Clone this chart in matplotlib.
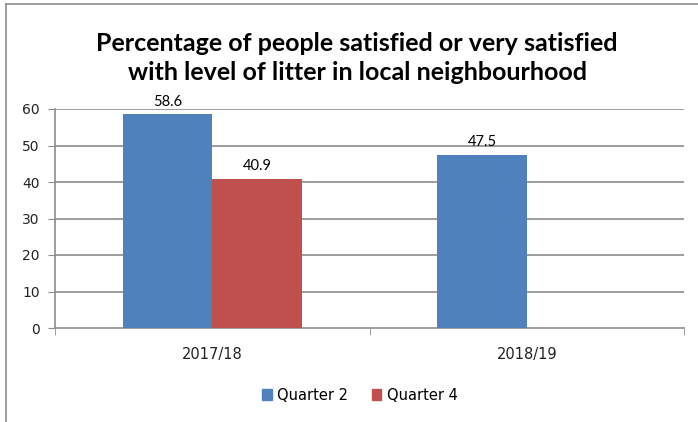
import matplotlib.pyplot as plt
from matplotlib.lines import Line2D
import numpy as np

years = ['2017/18', '2018/19']
quarter2 = [58.6, 47.5]
quarter4 = [40.9, None]
yticks = [0, 10, 20, 30, 40, 50, 60]

blue = '#4F81BD'
red = '#C0504D'
grey = '#8C8C8C'

W, H = 698, 422
fig = plt.figure(figsize=(W / 100, H / 100), dpi=100)

# outer chart border (only top and left visible in the reference)
fig.add_artist(Line2D([6 / W, 6 / W], [0, 1 - 4 / H], color=grey, lw=1.2))
fig.add_artist(Line2D([6 / W, 1], [1 - 4 / H, 1 - 4 / H], color=grey, lw=1.2))

ax = fig.add_axes([55 / W, (H - 328) / H, (684 - 55) / W, (328 - 109) / H])

x = np.arange(len(years))
w = 0.285
for i in range(len(years)):
    if quarter2[i] is not None:
        ax.bar(x[i] - w / 2, quarter2[i], w, color=blue, zorder=3)
        ax.annotate(f'{quarter2[i]:.1f}', (x[i] - w / 2, quarter2[i]), xytext=(0, 4),
                    textcoords='offset points', ha='center', va='bottom',
                    fontsize=10.5, family='Lato')
    if quarter4[i] is not None:
        ax.bar(x[i] + w / 2, quarter4[i], w, color=red, zorder=3)
        ax.annotate(f'{quarter4[i]:.1f}', (x[i] + w / 2, quarter4[i]), xytext=(0, 4),
                    textcoords='offset points', ha='center', va='bottom',
                    fontsize=10.5, family='Lato')

ax.set_xlim(-0.5, 1.5)
ax.set_ylim(0, 60)
ax.set_yticks(yticks)
ax.set_yticklabels([str(v) for v in yticks], fontsize=10, color='#222222')
ax.set_xticks(x)
ax.set_xticklabels(years, fontsize=10.5, color='#222222')
ax.set_xticks([-0.5, 0.5, 1.5], minor=True)
ax.tick_params(axis='x', which='major', length=0, pad=14)
ax.tick_params(axis='x', which='minor', length=5, color=grey, direction='out')
ax.tick_params(axis='y', length=5, color=grey, direction='out', pad=6)

for v in yticks[1:]:
    ax.axhline(v, color=grey, lw=1.2, zorder=1)
for s in ['top', 'right']:
    ax.spines[s].set_visible(False)
ax.spines['left'].set_color(grey)
ax.spines['bottom'].set_color(grey)
ax.spines['left'].set_linewidth(1.2)
ax.spines['bottom'].set_linewidth(1.2)

fig.text(357 / W, 1 - 58 / H,
         'Percentage of people satisfied or very satisfied\nwith level of litter in local neighbourhood',
         ha='center', va='center', fontsize=18, fontweight='bold', family='Lato',
         linespacing=1.35)

handles = [plt.Rectangle((0, 0), 1, 1, color=blue), plt.Rectangle((0, 0), 1, 1, color=red)]
fig.legend(handles, ['Quarter 2', 'Quarter 4'], loc='center', ncol=2, frameon=False,
           bbox_to_anchor=(360 / W, 1 - 395 / H), fontsize=10.5,
           handlelength=0.65, handleheight=0.75, handletextpad=0.4, columnspacing=1.6)

fig.savefig('out.png', dpi=100)
